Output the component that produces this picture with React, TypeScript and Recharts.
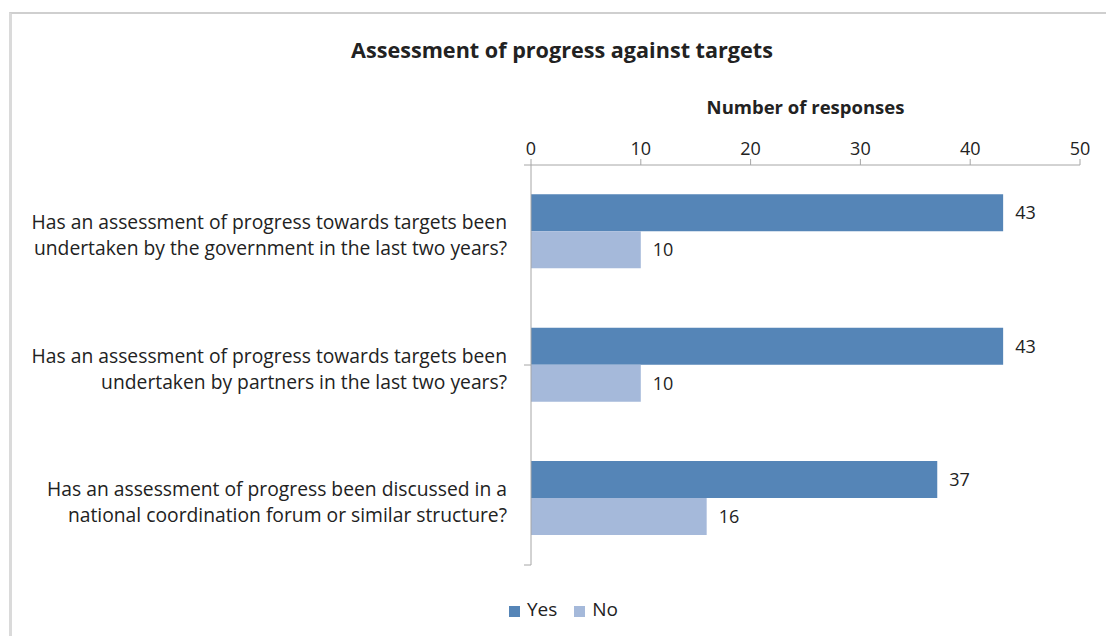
import React from 'react';
import { BarChart, Bar, XAxis, YAxis, Legend, LabelList } from 'recharts';

const categories = [
  'Has an assessment of progress towards targets been\nundertaken by the government in the last two years?',
  'Has an assessment of progress towards targets been\nundertaken by partners in the last two years?',
  'Has an assessment of progress been discussed in a\nnational coordination forum or similar structure?',
];
const seriesNames = ['Yes', 'No'];
const yesValues = [43, 43, 37];
const noValues = [10, 10, 16];
const xTicks = [0, 10, 20, 30, 40, 50];

const data = categories.map((question, i) => ({
  question,
  Yes: yesValues[i],
  No: noValues[i],
}));
const separators = categories.map((_, i) => i).concat(categories.length);

const FONT = '"Open Sans", "DejaVu Sans", sans-serif';
const TEXT = '#222';
const AXIS = '#a6a6a6';

const QuestionTick = (props: any) => {
  const { x, y, payload } = props;
  const lines = String(payload.value).split('\n');
  const lh = 26;
  const start = y - ((lines.length - 1) * lh) / 2;
  return (
    <text x={x} y={start} textAnchor="end" fill={TEXT} fontSize={19.3} fontFamily={FONT}>
      {lines.map((l, i) => (
        <tspan key={i} x={x} y={start + i * lh} dy="0.55em">
          {l}
        </tspan>
      ))}
    </text>
  );
};

const NoTick = () => <g />;

export default function App() {
  return (
    <div
      style={{
        position: 'absolute',
        left: 0,
        top: 0,
        width: 1106,
        height: 636,
        background: '#fff',
        fontFamily: FONT,
        overflow: 'hidden',
      }}
    >
      <div
        style={{
          position: 'absolute',
          left: 9,
          top: 12,
          width: 1106,
          height: 700,
          borderTop: '2px solid #cfcfcf',
          borderLeft: '3px solid #dadada',
        }}
      />
      <div
        style={{
          position: 'absolute',
          left: 0,
          width: 1124,
          top: 35,
          textAlign: 'center',
          fontWeight: 700,
          fontSize: 21.6,
          color: TEXT,
        }}
      >
        Assessment of progress against targets
      </div>
      <div
        style={{
          position: 'absolute',
          left: 531,
          width: 549,
          top: 94,
          textAlign: 'center',
          fontWeight: 700,
          fontSize: 18.5,
          color: TEXT,
        }}
      >
        Number of responses
      </div>
      <div style={{ position: 'absolute', left: 0, top: 0 }}>
        <BarChart
          width={1106}
          height={636}
          data={data}
          layout="vertical"
          margin={{ top: 125, right: 26, bottom: 71, left: 31 }}
          barCategoryGap="22%"
          barGap={0}
        >
          <XAxis
            type="number"
            orientation="top"
            domain={[0, 50]}
            ticks={xTicks}
            height={40}
            stroke={AXIS}
            tickSize={6}
            tickMargin={4}
            tick={{ fill: TEXT, fontSize: 18, fontFamily: FONT }}
          />
          <YAxis
            type="category"
            dataKey="question"
            width={500}
            stroke={AXIS}
            tickLine={false}
            tickMargin={18}
            tick={<QuestionTick />}
          />
          <YAxis
            yAxisId="sep"
            type="number"
            domain={[0, categories.length]}
            ticks={separators}
            width={1}
            mirror
            tick={<NoTick />}
            tickSize={-7}
            axisLine={false}
            stroke={AXIS}
            allowDataOverflow
          />
          <Legend
            layout="horizontal"
            verticalAlign="middle"
            align="center"
            iconType="square"
            iconSize={11}
            itemSorter={(item: any) => seriesNames.indexOf(item.value)}
            wrapperStyle={{ position: 'absolute', top: 596, left: 472, width: 200 }}
            formatter={(v: string) => (
              <span style={{ color: TEXT, fontSize: 19, fontFamily: FONT, marginLeft: 3, marginRight: 7 }}>{v}</span>
            )}
          />
          <Bar dataKey="Yes" fill="#5585b7" isAnimationActive={false}>
            <LabelList dataKey="Yes" position="right" offset={12} fill={TEXT} fontSize={18} fontFamily={FONT} />
          </Bar>
          <Bar dataKey="No" fill="#a5b9da" isAnimationActive={false}>
            <LabelList dataKey="No" position="right" offset={12} fill={TEXT} fontSize={18} fontFamily={FONT} />
          </Bar>
        </BarChart>
      </div>
    </div>
  );
}
